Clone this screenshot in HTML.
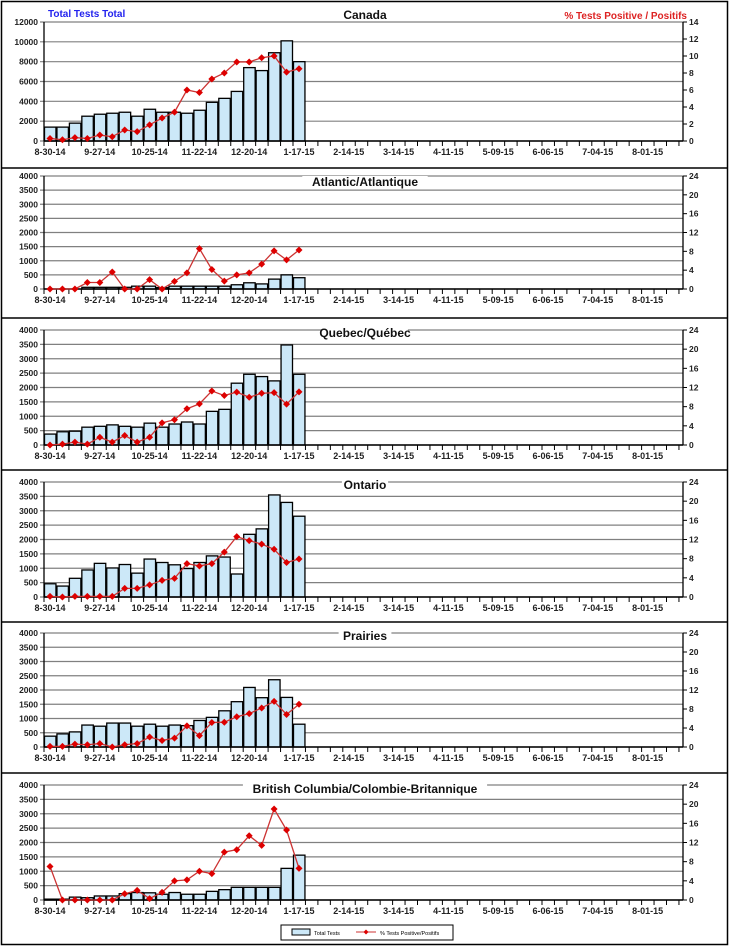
<!DOCTYPE html>
<html><head><meta charset="utf-8"><style>
html,body{margin:0;padding:0;background:#fff;}
svg{display:block;font-family:"Liberation Sans",Arial,sans-serif;}
</style></head><body>
<svg id="s" width="730" height="948" xmlns="http://www.w3.org/2000/svg"></svg>
<script>
var S=document.getElementById('s');var h='';
h+='<rect x="1.5" y="1.5" width="726" height="943" fill="#fff" stroke="#000" stroke-width="1.5"/>';
[168,318,470,622,773].forEach(function(y){h+='<line x1="1" x2="728" y1="'+y+'" y2="'+y+'" stroke="#000" stroke-width="1.5"/>';});
var X0=44,W=12.45,XR=683;
var labels=['8-30-14','9-27-14','10-25-14','11-22-14','12-20-14','1-17-15','2-14-15','3-14-15','4-11-15','5-09-15','6-06-15','7-04-15','8-01-15'];
var P=[
{t:'Canada',ty:19,top:22,bot:141,max:12000,step:2000,rmax:14,rstep:2,
b:[1400,1400,1800,2500,2700,2800,2900,2500,3200,2900,2900,2800,3100,3900,4300,5000,7400,7100,8900,10100,8000],
l:[0.3,0.15,0.4,0.3,0.7,0.5,1.3,1.1,1.9,2.7,3.4,6.0,5.7,7.3,8.0,9.3,9.3,9.8,10.0,8.1,8.5].map(function(v){return v*12000/14;})},
{t:'Atlantic/Atlantique',ty:186,top:176,bot:289,max:4000,step:500,rmax:24,rstep:4,
b:[0,0,0,60,60,60,60,100,100,50,100,100,100,100,100,150,220,180,350,500,400],
l:[0,0,0,230,230,600,0,0,330,0,270,570,1430,690,280,500,570,880,1350,1030,1380]},
{t:'Quebec/Québec',ty:337,top:330,bot:445,max:4000,step:500,rmax:24,rstep:4,
b:[380,460,480,620,650,700,650,620,760,620,730,800,730,1170,1240,2150,2460,2380,2230,3480,2460],
l:[0,30,100,30,270,100,330,100,270,770,880,1260,1430,1880,1720,1840,1660,1800,1820,1420,1850]},
{t:'Ontario',ty:489,top:482,bot:597,max:4000,step:500,rmax:24,rstep:4,
b:[460,380,650,940,1170,1010,1130,830,1320,1200,1120,990,1200,1430,1390,800,2180,2370,3550,3290,2810],
l:[20,0,20,20,20,20,300,300,420,580,650,1160,1080,1160,1560,2100,1960,1840,1660,1200,1320]},
{t:'Prairies',ty:640,top:633,bot:747,max:4000,step:500,rmax:24,rstep:4,
b:[380,460,530,770,730,840,840,730,800,730,770,750,930,1040,1270,1590,2090,1730,2360,1740,800],
l:[20,20,100,80,120,0,80,120,350,230,310,740,400,860,870,1060,1170,1370,1600,1140,1500]},
{t:'British Columbia/Colombie-Britannique',ty:793,top:785,bot:900,max:4000,step:500,rmax:24,rstep:4,
b:[30,30,100,80,140,140,220,260,250,200,260,200,200,300,360,440,440,440,440,1100,1560],
l:[7,0,0,0,0,0,1.3,2,0.3,1.6,4,4.2,6,5.5,10,10.5,13.4,11.4,19,14.6,6.6].map(function(v){return v*4000/24;})}
];
P.forEach(function(p){
 var H=p.bot-p.top;function Y(v){return p.bot-v/p.max*H;}
 for(var v=0;v<=p.max;v+=p.step){var y=Y(v);
  h+='<line x1="'+(X0-4)+'" x2="'+XR+'" y1="'+y+'" y2="'+y+'" stroke="#808080" stroke-width="1.2"/>';
  h+='<text x="'+(X0-6)+'" y="'+(y+3)+'" font-size="8.5" font-weight="bold" fill="#222" text-anchor="end">'+v+'</text>';}
 for(var r=0;r<=p.rmax;r+=p.rstep){var y=p.bot-r/p.rmax*H;
  h+='<line x1="'+XR+'" x2="'+(XR+4)+'" y1="'+y+'" y2="'+y+'" stroke="#000"/>';
  h+='<text x="'+(XR+6)+'" y="'+(y+3)+'" font-size="8.5" font-weight="bold" fill="#222">'+r+'</text>';}
 p.b.forEach(function(v,i){if(v<=0)return;var x=X0+i*W+0.5,y=Y(v);
  h+='<rect x="'+x+'" y="'+y+'" width="'+(W-1)+'" height="'+(p.bot-y)+'" fill="#cce8f8" stroke="#000" stroke-width="1.3"/>';});
 h+='<line x1="'+X0+'" x2="'+X0+'" y1="'+p.top+'" y2="'+p.bot+'" stroke="#000" stroke-width="1.3"/>';
 h+='<line x1="'+XR+'" x2="'+XR+'" y1="'+p.top+'" y2="'+p.bot+'" stroke="#000" stroke-width="1.3"/>';
 h+='<line x1="'+X0+'" x2="'+XR+'" y1="'+p.bot+'" y2="'+p.bot+'" stroke="#000" stroke-width="1.5"/>';
 for(var i=0;i<=51;i++){var x=X0+i*W;h+='<line x1="'+x+'" x2="'+x+'" y1="'+p.bot+'" y2="'+(p.bot+5)+'" stroke="#000"/>';}
 labels.forEach(function(t,k){h+='<text x="'+(X0+k*4*W+6)+'" y="'+(p.bot+14)+'" font-size="9" font-weight="bold" fill="#222" text-anchor="middle">'+t+'</text>';});
 var pts=p.l.map(function(v,i){return (X0+i*W+6)+','+Y(v);});
 h+='<polyline points="'+pts.join(' ')+'" fill="none" stroke="#cc3333" stroke-width="1.3"/>';
 p.l.forEach(function(v,i){var x=X0+i*W+6,y=Y(v);
  h+='<path d="M'+x+' '+(y-3.5)+'L'+(x+3.5)+' '+y+'L'+x+' '+(y+3.5)+'L'+(x-3.5)+' '+y+'Z" fill="#dd0000"/>';});
 h+='<rect x="'+(365-p.t.length*3.3)+'" y="'+(p.ty-10)+'" width="'+(p.t.length*6.6)+'" height="12" fill="#fff"/>';
 h+='<text x="365" y="'+p.ty+'" font-size="12" font-weight="bold" fill="#111" text-anchor="middle">'+p.t+'</text>';
});
h+='<text x="48" y="17" font-size="10" font-weight="bold" fill="#2222ee">Total Tests Total</text>';
h+='<text x="687" y="19" font-size="10" font-weight="bold" fill="#dd2222" text-anchor="end">% Tests Positive / Positifs</text>';
h+='<rect x="281" y="925" width="172" height="15" fill="#fff" stroke="#000"/>';
h+='<rect x="292" y="929" width="18" height="6" fill="#cce8f8" stroke="#000"/>';
h+='<text x="314" y="935" font-size="5.5" fill="#000">Total Tests</text>';
h+='<line x1="356" x2="376" y1="932" y2="932" stroke="#cc3333"/><path d="M366 929.5L368.5 932L366 934.5L363.5 932Z" fill="#d00"/>';
h+='<text x="380" y="935" font-size="5.5" fill="#000">% Tests Positive/Positifs</text>';
S.innerHTML=h;
</script>
</body></html>
